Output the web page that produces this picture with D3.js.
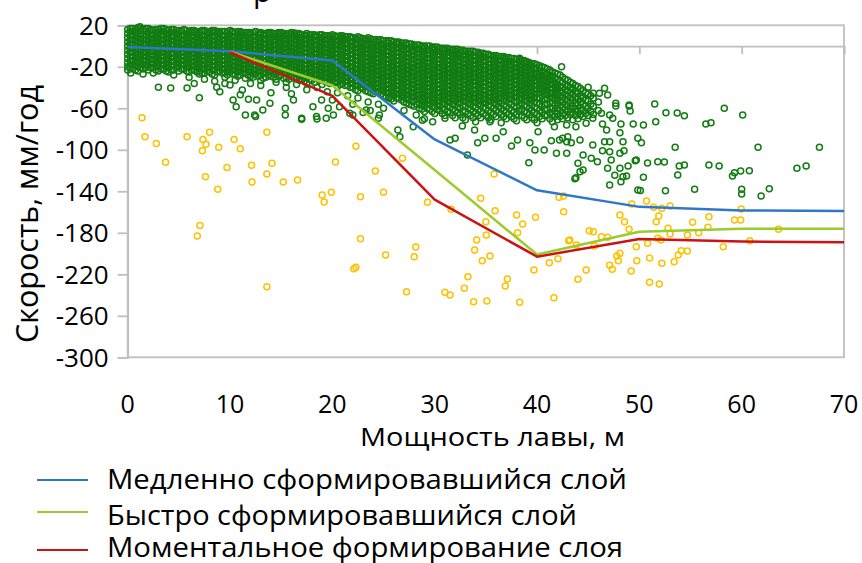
<!DOCTYPE html>
<html><head><meta charset="utf-8">
<script src="https://cdn.jsdelivr.net/npm/d3@7"></script>
<style>body{margin:0;background:#fff}svg{display:block}text{font-family:"Open Sans",sans-serif;fill:#000}</style>
</head><body><svg id="c" width="862" height="563"></svg>
<script>
// ---------- data ----------
const xTicks = [0,10,20,30,40,50,60,70];
const yTicks = [20,-20,-60,-100,-140,-180,-220,-260,-300];
const xTitle = "Мощность лавы, м";
const yTitle = "Скорость, мм/год";
const titleFragment = "р";
const seriesNames = ["Медленно сформировавшийся слой","Быстро сформировавшийся слой","Моментальное формирование слоя"];

const slowX = [0,10,20,30,40,50,60,70];
const slowY = [-1,-5,-14,-90,-139,-155,-158.5,-159];
const fastX = [10,20,30,40,50,60,70];
const fastY = [-5.5,-38,-119.5,-201,-179,-176,-176];
const instX = [10,20,30,40,50,60,70];
const instY = [-6,-48,-148,-203,-186,-188.5,-189];

// observed velocities (green), dense part read column by column: "x: y y y ..."
const greenColumns = [
"0:16 12 8 4 0 -4 -8 -12 -16 -20 -23","0.5:17 14 10 6 2 -2 -6 -10 -14 -18 -22","1:18 12 8 4 0 -4 -8 -12 -16 -20 -24",
"1.5:16 10 6 2 -2 -6 -10 -14 -18 -22","2:17 13 9 5 1 -3 -7 -11 -15 -19 -23","2.5:15 11 7 3 -1 -5 -9 -13 -17 -21",
"3:16 12 8 4 0 -4 -8 -12 -16 -20 -24","3.5:17 14 10 6 2 -2 -6 -10 -14 -18 -22","4:15 11 7 3 -1 -5 -9 -13 -17 -21 -25",
"4.5:16 13 9 5 1 -3 -7 -11 -15 -19 -23","5:15 12 8 4 0 -4 -8 -12 -16 -20 -24","5.5:16 10 6 2 -2 -6 -10 -14 -18 -22",
"6:14 11 7 3 -1 -5 -9 -13 -17 -21 -25","6.5:15 13 9 5 1 -3 -7 -11 -15 -19 -23","7:14 12 8 4 0 -4 -8 -12 -16 -20 -24 -27",
"7.5:15 10 6 2 -2 -6 -10 -14 -18 -22 -26","8:14 11 7 3 -1 -5 -9 -13 -17 -21 -25","8.5:15 13 9 5 1 -3 -7 -11 -15 -19 -23 -28",
"9:14 12 8 4 0 -4 -8 -12 -16 -20 -24","9.5:14 10 6 2 -2 -6 -10 -14 -18 -22 -26 -30","10:15 11 7 3 -1 -5 -9 -13 -17 -21 -25",
"10.5:13 9 5 1 -3 -7 -11 -15 -19 -23 -27","11:14 12 8 4 0 -4 -8 -12 -16 -20 -24 -28","11.5:13 10 6 2 -2 -6 -10 -14 -18 -22 -26 -31",
"12:13 11 7 3 -1 -5 -9 -13 -17 -21 -25 -29","12.5:14 9 5 1 -3 -7 -11 -15 -19 -23 -27","13:13 12 8 4 0 -4 -8 -12 -16 -20 -24 -28 -33",
"13.5:12 10 6 2 -2 -6 -10 -14 -18 -22 -26 -30","14:13 11 7 3 -1 -5 -9 -13 -17 -21 -25 -29","14.5:12 9 5 1 -3 -7 -11 -15 -19 -23 -27 -32",
"15:13 12 8 4 0 -4 -8 -12 -16 -20 -24 -28","15.5:12 10 6 2 -2 -6 -10 -14 -18 -22 -26 -30 -35","16:13 11 7 3 -1 -5 -9 -13 -17 -21 -25 -29",
"16.5:12 9 5 1 -3 -7 -11 -15 -19 -23 -27 -31","17:11 8 4 0 -4 -8 -12 -16 -20 -24 -28 -32","17.5:12 10 6 2 -2 -6 -10 -14 -18 -22 -26 -30 -36",
"18:11 7 3 -1 -5 -9 -13 -17 -21 -25 -29 -33","18.5:10 9 5 1 -3 -7 -11 -15 -19 -23 -27 -31","19:11 8 4 0 -4 -8 -12 -16 -20 -24 -28 -32 -37",
"19.5:10 6 2 -2 -6 -10 -14 -18 -22 -26 -30 -34","20:11 7 3 -1 -5 -9 -13 -17 -21 -25 -29 -33","20.5:9 5 1 -3 -7 -11 -15 -19 -23 -27 -31 -35 -39",
"21:10 8 4 0 -4 -8 -12 -16 -20 -24 -28 -32 -36","21.5:9 6 2 -2 -6 -10 -14 -18 -22 -26 -30 -34 -38","22:8 4 0 -4 -8 -12 -16 -20 -24 -28 -32 -36 -40",
"22.5:9 6 2 -2 -6 -10 -14 -18 -22 -26 -30 -34 -38 -43","23:7 3 -1 -5 -9 -13 -17 -21 -25 -29 -33 -37 -41","23.5:8 5 1 -3 -7 -11 -15 -19 -23 -27 -31 -35 -39 -44",
"24:6 2 -2 -6 -10 -14 -18 -22 -26 -30 -34 -38 -42 -46","24.5:6 4 0 -4 -8 -12 -16 -20 -24 -28 -32 -36 -40 -44","25:5 1 -3 -7 -11 -15 -19 -23 -27 -31 -35 -39 -43 -48",
"25.5:5 3 -1 -5 -9 -13 -17 -21 -25 -29 -33 -37 -41 -45 -50","26:4 0 -4 -8 -12 -16 -20 -24 -28 -32 -36 -40 -44 -48 -53","26.5:4 2 -2 -6 -10 -14 -18 -22 -26 -30 -34 -38 -42 -46 -50",
"27:3 -1 -5 -9 -13 -17 -21 -25 -29 -33 -37 -41 -45 -49 -54","27.5:2 -3 -7 -11 -15 -19 -23 -27 -31 -35 -39 -43 -47 -51 -56","28:1 -1 -5 -9 -13 -17 -21 -25 -29 -33 -37 -41 -45 -49 -53 -58",
"28.5:1 -3 -7 -11 -15 -19 -23 -27 -31 -35 -39 -43 -47 -51 -55 -60","29:0 -2 -6 -10 -14 -18 -22 -26 -30 -34 -38 -42 -46 -50 -54 -58 -63","29.5:0 -4 -8 -12 -16 -20 -24 -28 -32 -36 -40 -44 -48 -52 -56 -61",
"30:-1 -3 -7 -11 -15 -19 -23 -27 -31 -35 -39 -43 -47 -51 -55 -59 -65","30.5:-2 -5 -9 -13 -17 -21 -25 -29 -33 -37 -41 -45 -49 -53 -58 -62","31:-2 -4 -8 -12 -16 -20 -24 -28 -32 -36 -40 -44 -48 -52 -56 -61 -67",
"31.5:-3 -6 -10 -14 -18 -22 -26 -30 -34 -38 -42 -46 -50 -54 -59 -64","32:-3 -5 -9 -13 -17 -21 -25 -29 -33 -37 -41 -45 -49 -53 -57 -62 -69","32.5:-4 -7 -11 -15 -19 -23 -27 -31 -35 -39 -43 -47 -51 -55 -60 -66",
"33:-5 -9 -13 -17 -21 -25 -29 -33 -37 -41 -45 -49 -53 -58 -63 -71","33.5:-5 -8 -12 -16 -20 -24 -28 -32 -36 -40 -44 -48 -52 -56 -61 -67","34:-6 -10 -14 -18 -22 -26 -30 -34 -38 -42 -46 -50 -54 -59 -65 -73",
"34.5:-7 -9 -13 -17 -21 -25 -29 -33 -37 -41 -45 -49 -53 -57 -63 -69","35:-8 -11 -15 -19 -23 -27 -31 -35 -39 -43 -47 -51 -55 -60 -67","35.5:-9 -13 -17 -21 -25 -29 -33 -37 -41 -45 -49 -53 -58 -64 -71",
"36:-9 -12 -16 -20 -24 -28 -32 -36 -40 -44 -48 -52 -56 -62 -68","36.5:-10 -14 -18 -22 -26 -30 -34 -38 -42 -46 -50 -55 -60 -66 -74","37:-11 -13 -17 -21 -25 -29 -33 -37 -41 -45 -49 -53 -58 -64 -70",
"37.5:-12 -15 -19 -23 -27 -31 -35 -39 -43 -47 -51 -56 -62 -68","38:-13 -17 -21 -25 -29 -33 -37 -41 -45 -49 -54 -59 -66 -72","38.5:-14 -18 -22 -26 -30 -34 -38 -42 -46 -50 -55 -61 -67",
"39:-15 -17 -21 -25 -29 -33 -37 -41 -45 -49 -53 -58 -64 -71","39.5:-17 -20 -24 -28 -32 -36 -40 -44 -48 -52 -57 -62 -69","40:-18 -22 -26 -30 -34 -38 -42 -46 -50 -55 -60 -66 -74",
"40.5:-20 -24 -28 -32 -36 -40 -44 -48 -53 -58 -64 -70","41:-22 -27 -31 -35 -39 -43 -47 -51 -56 -61 -67","41.5:-25 -29 -33 -37 -41 -46 -50 -55 -60 -66 -73",
"42:-27 -32 -37 -41 -46 -50 -55 -60 -65 -71","42.5:-30 -35 -40 -45 -49 -54 -59 -65 -70","43:-33 -38 -43 -48 -53 -58 -63 -69",
"43.5:-36 -42 -47 -52 -58 -64 -71","44:-39 -46 -51 -57 -63 -70","44.5:-43 -50 -56 -62 -68","45:-46 -53 -60 -67","45.5:-50 -58 -66","46:-54 -62",
// in-between columns of the same dense cloud
"0.25:17 14 10 6 2 -2 -6 -10 -14 -18 -21","0.75:16 13 9 5 1 -3 -7 -11 -15 -19 -23","1.25:17 15 11 7 3 -1 -5 -9 -13 -17 -21",
"1.75:17 14 10 6 2 -2 -6 -10 -14 -18 -21","2.25:16 15 11 7 3 -1 -5 -9 -13 -17 -21","2.75:16 13 9 5 1 -3 -7 -11 -15 -19 -23",
"3.25:17 14 10 6 2 -2 -6 -10 -14 -18 -22","3.75:16 12 8 4 0 -4 -8 -12 -16 -20 -24","4.25:16 13 9 5 1 -3 -7 -11 -15 -19 -23",
"4.75:15 11 7 3 -1 -5 -9 -13 -17 -21","5.25:15 14 10 6 2 -2 -6 -10 -14 -18 -22","5.75:15 12 8 4 0 -4 -8 -12 -16 -20 -24",
"6.25:15 13 9 5 1 -3 -7 -11 -15 -19 -23","6.75:14 11 7 3 -1 -5 -9 -13 -17 -21 -25","7.25:15 14 10 6 2 -2 -6 -10 -14 -18 -22 -26",
"7.75:14 12 8 4 0 -4 -8 -12 -16 -20 -24","8.25:15 13 9 5 1 -3 -7 -11 -15 -19 -23 -27","8.75:14 11 7 3 -1 -5 -9 -13 -17 -21 -25",
"9.25:14 10 6 2 -2 -6 -10 -14 -18 -22 -26","9.75:14 12 8 4 0 -4 -8 -12 -16 -20 -24 -28","10.25:14 13 9 5 1 -3 -7 -11 -15 -19 -23 -27",
"10.75:14 11 7 3 -1 -5 -9 -13 -17 -21 -25 -29","11.25:13 10 6 2 -2 -6 -10 -14 -18 -22 -26","11.75:13 12 8 4 0 -4 -8 -12 -16 -20 -24 -28",
"12.25:13 9 5 1 -3 -7 -11 -15 -19 -23 -27 -30","12.75:13 11 7 3 -1 -5 -9 -13 -17 -21 -25 -29","13.25:12 10 6 2 -2 -6 -10 -14 -18 -22 -26 -31",
"13.75:13 12 8 4 0 -4 -8 -12 -16 -20 -24 -28","14.25:12 9 5 1 -3 -7 -11 -15 -19 -23 -27 -30","14.75:13 11 7 3 -1 -5 -9 -13 -17 -21 -25 -29",
"15.25:12 10 6 2 -2 -6 -10 -14 -18 -22 -26 -31","15.75:12 8 4 0 -4 -8 -12 -16 -20 -24 -28 -32","16.25:12 10 6 2 -2 -6 -10 -14 -18 -22 -26 -31",
"16.75:12 11 7 3 -1 -5 -9 -13 -17 -21 -25 -29 -33","17.25:11 10 6 2 -2 -6 -10 -14 -18 -22 -26 -30 -34","17.75:11 8 4 0 -4 -8 -12 -16 -20 -24 -28 -32",
"18.25:11 9 5 1 -3 -7 -11 -15 -19 -23 -27 -31 -35","18.75:11 7 3 -1 -5 -9 -13 -17 -21 -25 -29 -33","19.25:10 10 6 2 -2 -6 -10 -14 -18 -22 -26 -30 -34",
"19.75:10 8 4 0 -4 -8 -12 -16 -20 -24 -28 -32 -36","20.25:10 9 5 1 -3 -7 -11 -15 -19 -23 -27 -31 -35","20.75:10 7 3 -1 -5 -9 -13 -17 -21 -25 -29 -33 -37",
"21.25:9 6 2 -2 -6 -10 -14 -18 -22 -26 -30 -34 -38","21.75:9 8 4 0 -4 -8 -12 -16 -20 -24 -28 -32 -36 -40","22.25:8 6 2 -2 -6 -10 -14 -18 -22 -26 -30 -34 -38 -42",
"22.75:8 4 0 -4 -8 -12 -16 -20 -24 -28 -32 -36 -40","23.25:7 5 1 -3 -7 -11 -15 -19 -23 -27 -31 -35 -39 -43","23.75:7 3 -1 -5 -9 -13 -17 -21 -25 -29 -33 -37 -41 -45",
"24.25:6 4 0 -4 -8 -12 -16 -20 -24 -28 -32 -36 -40 -44","24.75:6 2 -2 -6 -10 -14 -18 -22 -26 -30 -34 -38 -42 -46","25.25:5 3 -1 -5 -9 -13 -17 -21 -25 -29 -33 -37 -41 -45 -49",
"25.75:5 1 -3 -7 -11 -15 -19 -23 -27 -31 -35 -39 -43 -47 -51","26.25:4 2 -2 -6 -10 -14 -18 -22 -26 -30 -34 -38 -42 -46 -50","26.75:3 0 -4 -8 -12 -16 -20 -24 -28 -32 -36 -40 -44 -48 -52",
"27.25:3 1 -3 -7 -11 -15 -19 -23 -27 -31 -35 -39 -43 -47 -51 -55","27.75:2 -1 -5 -9 -13 -17 -21 -25 -29 -33 -37 -41 -45 -49 -53 -57","28.25:1 -3 -7 -11 -15 -19 -23 -27 -31 -35 -39 -43 -47 -51 -56",
"28.75:0 -1 -5 -9 -13 -17 -21 -25 -29 -33 -37 -41 -45 -49 -53 -57 -61","29.25:0 -4 -8 -12 -16 -20 -24 -28 -32 -36 -40 -44 -48 -52 -56 -60","29.75:-1 -2 -6 -10 -14 -18 -22 -26 -30 -34 -38 -42 -46 -50 -54 -58 -63",
"30.25:-1 -5 -9 -13 -17 -21 -25 -29 -33 -37 -41 -45 -49 -53 -57 -61","30.75:-2 -3 -7 -11 -15 -19 -23 -27 -31 -35 -39 -43 -47 -51 -55 -60 -65","31.25:-2 -6 -10 -14 -18 -22 -26 -30 -34 -38 -42 -46 -50 -54 -58 -63",
"31.75:-3 -4 -8 -12 -16 -20 -24 -28 -32 -36 -40 -44 -48 -52 -56 -61 -67","32.25:-3 -7 -11 -15 -19 -23 -27 -31 -35 -39 -43 -47 -51 -55 -59 -64","32.75:-4 -5 -9 -13 -17 -21 -25 -29 -33 -37 -41 -45 -49 -53 -58 -63 -69",
"33.25:-5 -7 -11 -15 -19 -23 -27 -31 -35 -39 -43 -47 -51 -55 -60 -65","33.75:-5 -10 -14 -18 -22 -26 -30 -34 -38 -42 -46 -50 -54 -58 -63 -69","34.25:-6 -8 -12 -16 -20 -24 -28 -32 -36 -40 -44 -48 -52 -56 -61 -67",
"34.75:-7 -11 -15 -19 -23 -27 -31 -35 -39 -43 -47 -51 -55 -59 -65","35.25:-8 -9 -13 -17 -21 -25 -29 -33 -37 -41 -45 -49 -53 -57 -62 -69","35.75:-9 -11 -15 -19 -23 -27 -31 -35 -39 -43 -47 -51 -55 -60 -66",
"36.25:-10 -14 -18 -22 -26 -30 -34 -38 -42 -46 -50 -54 -58 -64","36.75:-10 -12 -16 -20 -24 -28 -32 -36 -40 -44 -48 -52 -57 -62 -68","37.25:-11 -15 -19 -23 -27 -31 -35 -39 -43 -47 -51 -55 -60 -66",
"37.75:-12 -17 -21 -25 -29 -33 -37 -41 -45 -49 -53 -58 -64 -70","38.25:-13 -15 -19 -23 -27 -31 -35 -39 -43 -47 -52 -57 -63","38.75:-14 -16 -20 -24 -28 -32 -36 -40 -44 -48 -52 -57 -63 -69",
"39.25:-16 -19 -23 -27 -31 -35 -39 -43 -47 -51 -55 -60 -66","39.75:-17 -22 -26 -30 -34 -38 -42 -46 -50 -54 -59 -64 -71","40.25:-19 -21 -25 -29 -33 -37 -41 -45 -50 -56 -62 -68",
"40.75:-21 -26 -30 -34 -38 -42 -46 -51 -56 -61 -67","41.25:-23 -25 -29 -33 -37 -41 -45 -49 -54 -59 -64 -70","41.75:-26 -31 -35 -39 -44 -48 -52 -57 -63 -68",
"42.25:-28 -34 -39 -43 -48 -53 -57 -62 -68","42.75:-32 -37 -42 -47 -51 -56 -61 -67","43.25:-35 -40 -45 -50 -55 -61 -66",
"43.75:-38 -44 -49 -55 -61 -67","44.25:-41 -48 -54 -60 -66","44.75:-45 -52 -58 -65","45.25:-48 -56 -63"
];
// observed velocities (green), scattered points
const greenSparse = [
[1.2,18.7],[16.3,12.5],[21,6.5],[29,-2.2],[30,-3.8],[32.4,-8.6],[33.3,-7],[37.3,-15.1],[38.3,-11.8],[39.3,-16.6],[39.8,-21.4],[42.4,-19.9],
[40.1,-29.5],[41.1,-31.1],[41.9,-40.7],[43,-39],[43.5,-40.7],[45,-39.8],[46.6,-40.7],[46.1,-45.5],[46.9,-47.2],[45.5,-45.5],[44.3,-48.8],
[47.7,-57.8],[49,-57.8],[49.1,-62.6],[0.3,-26],[1.5,-27],[2.5,-26],[4.5,-28],[6,-30],[7.5,-32],[8.5,-34],[9.5,-36],[10.5,-33],[12,-36],
[13,-38],[14.5,-35],[15.5,-40],[16.5,-37],[17.5,-42],[18.5,-40],[19.5,-44],[20.5,-45],[21.5,-48],[22.5,-50],[23.5,-54],[24.5,-56],
[14,-45],[16,-46],[9,-44],[6.5,-36],[11,-47],[20,-52],[22,-56],[27,-62],[29,-70],
[3,-39.8],[4.2,-40.4],[5.8,-40.4],[7,-49.8],[8.7,-39.8],[10,-37.5],[10.3,-52],[10.6,-58.5],[11.5,-66.5],[12.4,-66.5],[11.8,-51.3],[12.6,-52],
[11.2,-42.4],[13.2,-61.6],[13.9,-55.2],[15.4,-60],[16.2,-52],[17,-69.6],[18.5,-70.3],[18.1,-58.5],[18.95,-52],[19.6,-60],[20.1,-66.5],
[20.7,-58.5],[21.7,-64.8],[23.3,-61.6],[25,-60],[25.6,-48.8],[26.9,-48.8],[28.55,-52],[12.5,-68],[15.4,-66.5],[17,-70.6],[18.45,-68],
[19.4,-69.6],[22,-66.5],[23,-64],[23.7,-62],[24.6,-66.5],[24.5,-69.6],[26.4,-80.9],[26.6,-87.4],[27.9,-77.7],[28.2,-66.5],[28.8,-71.5],
[29.8,-72.9],[31,-69.6],[31.5,-90.6],[32,-88.9],[32.7,-77.1],[33.9,-80.9],[34.2,-93.2],[34.9,-88.9],[36,-88.9],[35.4,-72.9],[36.7,-82.6],
[37.5,-96.3],[38.1,-90.6],[39.3,-93.2],[39.8,-100.2],[40.7,-100.2],[40.1,-82.6],[41.4,-91.2],[42.5,-88.9],[43,-87.4],[41.7,-77.7],
[42.9,-76.1],[43.8,-77.7],[44.8,-74.5],[45.45,-69.6],[46.3,-64.8],[44.2,-66.5],[43.5,-60],
[47.7,-55.2],[49,-56.8],[51.5,-55.9],[58.3,-60],[60.1,-66.5],[52.6,-64.2],[53.7,-64.5],[54.4,-67.1],[56.5,-75.1],[57,-73.9],[51.6,-72.9],
[49.4,-75.1],[50.4,-76.1],[61.6,-97.6],[67.6,-97.6],[53.5,-97.6],[65.4,-117.8],[66.3,-115.6],[60.75,-120.1],[59.9,-120.4],[59.3,-122.1],
[59.1,-125.3],[56.8,-114.6],[57.8,-115.6],[53.9,-115.6],[54.4,-114.6],[53.75,-124.3],[55.4,-138.1],[60,-138.1],[60,-142.6],[62.7,-137.5],
[61.9,-144.5],[52.55,-139.4],[49.85,-138.7],[50.1,-139.2],[51.8,-111.5],[52.45,-111.8],[50.8,-112.7],[49.7,-109.8],[47.1,-133.9],
[48.2,-130.7],[48.4,-125.9],[48.75,-125.3],[47.6,-124.6],[50.4,-126.5],[43.7,-127.9],[43.8,-126.9],[44.5,-119.5],[44.2,-121.1],
[46.9,-117.8],[48.1,-117.8],[48.9,-115.6],[49.6,-110.5],[45.9,-111.5],[47.25,-109.8],[48.1,-103.4],[48.5,-100.9],[47.1,-101.8],
[46.4,-100.9],[45.3,-108.2],[44.5,-105],[44,-113],[42.9,-103.4],[41.9,-103.4],[39.2,-112.4],[33.2,-105],[45.45,-95.4],[46.6,-92.2],
[47.1,-92.2],[48.4,-92.2],[49.85,-88.9],[50.2,-93.2],[48.1,-83.5],[46.8,-80.9],[48.2,-75.1],[46.4,-75.1],[47.4,-69.6],[47.1,-66.5],
[44.2,-90.6],[43.35,-93.2],[42.9,-92.2],[42.2,-90.6]
];
// orange points
const orangePts = [
[1.4,-69],[1.7,-87.4],[2.8,-94],[3.7,-112],[5.8,-87.4],[7.35,-90],[7.65,-94.7],[7.3,-101],[8,-83],[7.6,-126],[8.9,-97.6],[8.8,-138],
[9.7,-117],[10.4,-90],[11,-99],[12.1,-115],[12.15,-131],[13.6,-83],[14.1,-113],[13.6,-123.3],[15.2,-131],[16.6,-129],[7.06,-173],
[6.8,-183],[19,-143.6],[19.2,-150.3],[19.9,-141],[20.3,-111.8],[22.3,-96.6],[22.75,-145.2],[24.2,-120.4],[25,-141],[26.85,-108.2],
[22.75,-185.7],[28.15,-193.7],[29.3,-150.6],[13.6,-232],[22.1,-214.6],[22.3,-213.3],[25.2,-201.4],[28,-203],[27.25,-236.8],
[35.8,-123.3],[34.5,-146.7],[31.6,-157.4],[35.9,-158.7],[35,-169.3],[38,-162.9],[38.6,-171.5],[39.85,-165],[38.1,-179.9],[35.05,-182],
[34.1,-187],[42.15,-145.8],[42.6,-144.5],[42.6,-159.7],[43.2,-187],[43.85,-191.8],[45.1,-178],[45.5,-179],[46.3,-183.8],[46.9,-184.3],
[48.1,-162.9],[48.55,-169.3],[49,-176.6],[49.25,-152.2],[50.7,-149.3],[51.4,-155.4],[52.2,-156.4],[53,-154.2],[51.9,-163.8],[51.65,-169.3],
[52.8,-175.7],[53,-181.2],[54.7,-182.1],[55.2,-169.9],[55.8,-179.9],[56.8,-164.5],[56.7,-174.7],[59.3,-167.7],[59.9,-167.7],[59.95,-157.1],
[60.8,-187.6],[63.6,-176.6],[58.2,-193.4],[51.8,-185.3],[52.1,-187],[50.8,-190.1],[49.7,-193.4],[45.6,-192.7],
[31,-237.4],[31.5,-240],[32.9,-233.5],[33.25,-222.3],[33.8,-246.4],[35.1,-245.7],[33.9,-196.6],[34.65,-206.9],[35.4,-202.4],
[36.9,-231.3],[37.1,-224.5],[38.3,-247],[39.7,-215.9],[41.2,-208.8],[42.05,-205],[41.65,-242.6],[44,-224.8],[44.8,-215.9],[43.1,-187.6],
[47.1,-211.3],[47.35,-215.2],[47.8,-202.4],[48.1,-199.8],[47.95,-206.9],[49.2,-216.8],[49.75,-206.9],[51,-204.3],[51,-227.7],
[51.95,-229.3],[52.2,-209.4],[53.4,-207.8],[53.8,-201.4],[54.1,-197.3],[54.7,-197.5]
];

// ---------- drawing ----------
const svg = d3.select("#c");
const x = d3.scaleLinear().domain([0,70]).range([127.7,844]);
const y = d3.scaleLinear().domain([20,-300]).range([25.3,357.3]);
const gray = "#bfbfbf";

svg.append("rect").attr("x",x(0)).attr("y",y(20)).attr("width",x(70)-x(0)).attr("height",y(-300)-y(20))
  .attr("fill","none").attr("stroke",gray).attr("stroke-width",1.8);

const yAxis = d3.axisLeft(y).tickValues(yTicks).tickSize(10).tickFormat(d=>String(d));
const gy = svg.append("g").attr("transform",`translate(${x(0)},0)`).call(yAxis);
gy.select(".domain").attr("stroke",gray).attr("stroke-width",1.8);
gy.selectAll(".tick line").attr("stroke",gray).attr("stroke-width",1.8);
gy.selectAll(".tick text").attr("x",-19).attr("dy","0.35em").style("font-size","26px").style("font-family","Open Sans").attr("fill","#000");

const xAxis = d3.axisBottom(x).tickValues(xTicks).tickSize(8).tickFormat("");
const gx = svg.append("g").attr("transform",`translate(0,${y(0)})`).call(xAxis);
gx.select(".domain").attr("stroke",gray).attr("stroke-width",1.8);
gx.selectAll(".tick line").attr("stroke",gray).attr("stroke-width",1.8);

svg.append("g").selectAll("text").data(xTicks).join("text")
  .attr("x",d=>x(d)).attr("y",413).attr("text-anchor","middle").style("font-size","25px").text(d=>d);

const greenPts = [];
greenColumns.forEach(s=>{const [xs,ys]=s.split(":");ys.trim().split(/\s+/).forEach(v=>greenPts.push([+xs,+v]));});
greenSparse.forEach(p=>greenPts.push(p));
svg.append("g").selectAll("circle").data(greenPts).join("circle")
  .attr("cx",d=>x(d[0])).attr("cy",d=>y(d[1])).attr("r",3)
  .attr("fill","none").attr("stroke","#127c12").attr("stroke-width",1.5);
svg.append("g").selectAll("circle").data(orangePts).join("circle")
  .attr("cx",d=>x(d[0])).attr("cy",d=>y(d[1])).attr("r",3)
  .attr("fill","none").attr("stroke","#ffc000").attr("stroke-width",1.5);

const series = [
  {xs:slowX, ys:slowY, color:"#2f78c8"},
  {xs:fastX, ys:fastY, color:"#9ccb2c"},
  {xs:instX, ys:instY, color:"#cc1212"}
];
const line = d3.line().x(d=>x(d[0])).y(d=>y(d[1]));
series.forEach(s=>{
  svg.append("path").datum(s.xs.map((v,i)=>[v,s.ys[i]])).attr("d",line)
    .attr("fill","none").attr("stroke",s.color).attr("stroke-width",2.5).attr("stroke-linejoin","round");
});

svg.append("text").attr("x",360).attr("y",446).style("font-size","26px")
  .attr("textLength",265).attr("lengthAdjust","spacingAndGlyphs").text(xTitle);
svg.append("text").attr("transform","translate(38,214) rotate(-90)").attr("text-anchor","middle")
  .style("font-size","31px").attr("textLength",258).attr("lengthAdjust","spacingAndGlyphs").text(yTitle);

svg.append("text").attr("x",253).attr("y",2).style("font-size","30px").text(titleFragment);

const legY = [480,512,550], legBase = [489,525,557], legW = [520,470,516];
series.forEach((s,i)=>{
  svg.append("line").attr("x1",37).attr("x2",88).attr("y1",legY[i]).attr("y2",legY[i])
    .attr("stroke",s.color).attr("stroke-width",2);
  svg.append("text").attr("x",107).attr("y",legBase[i]).style("font-size","27px")
    .attr("textLength",legW[i]).attr("lengthAdjust","spacingAndGlyphs").text(seriesNames[i]);
});
</script></body></html>
